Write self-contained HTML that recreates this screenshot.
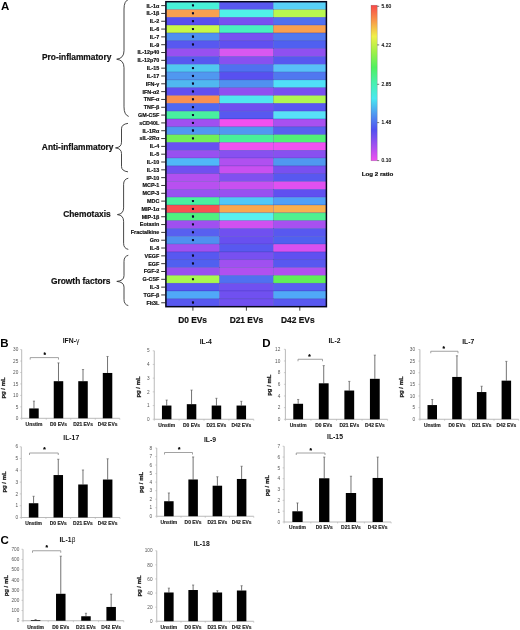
<!DOCTYPE html>
<html><head><meta charset="utf-8"><title>Figure</title>
<style>html,body{margin:0;padding:0;background:#fff}svg{display:block;will-change:transform;opacity:0.999}</style>
</head><body>
<svg width="520" height="630" viewBox="0 0 520 630" font-family='"Liberation Sans", sans-serif' font-weight="bold">
<rect width="520" height="630" fill="#fff"/>
<g shape-rendering="auto">
<rect x="165.90" y="1.70" width="53.60" height="7.82" fill="#48F0D8" stroke="#1a1a90" stroke-opacity="0.35" stroke-width="0.5"/>
<rect x="219.50" y="1.70" width="53.80" height="7.82" fill="#5858F0" stroke="#1a1a90" stroke-opacity="0.35" stroke-width="0.5"/>
<rect x="273.30" y="1.70" width="53.10" height="7.82" fill="#58D0F8" stroke="#1a1a90" stroke-opacity="0.35" stroke-width="0.5"/>
<rect x="165.90" y="9.52" width="53.60" height="7.82" fill="#F8A050" stroke="#1a1a90" stroke-opacity="0.35" stroke-width="0.5"/>
<rect x="219.50" y="9.52" width="53.80" height="7.82" fill="#50F0E8" stroke="#1a1a90" stroke-opacity="0.35" stroke-width="0.5"/>
<rect x="273.30" y="9.52" width="53.10" height="7.82" fill="#B8F850" stroke="#1a1a90" stroke-opacity="0.35" stroke-width="0.5"/>
<rect x="165.90" y="17.34" width="53.60" height="7.82" fill="#5850F0" stroke="#1a1a90" stroke-opacity="0.35" stroke-width="0.5"/>
<rect x="219.50" y="17.34" width="53.80" height="7.82" fill="#7850F0" stroke="#1a1a90" stroke-opacity="0.35" stroke-width="0.5"/>
<rect x="273.30" y="17.34" width="53.10" height="7.82" fill="#5070F0" stroke="#1a1a90" stroke-opacity="0.35" stroke-width="0.5"/>
<rect x="165.90" y="25.16" width="53.60" height="7.82" fill="#C8F848" stroke="#1a1a90" stroke-opacity="0.35" stroke-width="0.5"/>
<rect x="219.50" y="25.16" width="53.80" height="7.82" fill="#48F0C0" stroke="#1a1a90" stroke-opacity="0.35" stroke-width="0.5"/>
<rect x="273.30" y="25.16" width="53.10" height="7.82" fill="#F8A050" stroke="#1a1a90" stroke-opacity="0.35" stroke-width="0.5"/>
<rect x="165.90" y="32.98" width="53.60" height="7.82" fill="#5090F0" stroke="#1a1a90" stroke-opacity="0.35" stroke-width="0.5"/>
<rect x="219.50" y="32.98" width="53.80" height="7.82" fill="#7850F0" stroke="#1a1a90" stroke-opacity="0.35" stroke-width="0.5"/>
<rect x="273.30" y="32.98" width="53.10" height="7.82" fill="#5078F0" stroke="#1a1a90" stroke-opacity="0.35" stroke-width="0.5"/>
<rect x="165.90" y="40.80" width="53.60" height="7.82" fill="#5858F0" stroke="#1a1a90" stroke-opacity="0.35" stroke-width="0.5"/>
<rect x="219.50" y="40.80" width="53.80" height="7.82" fill="#6050F0" stroke="#1a1a90" stroke-opacity="0.35" stroke-width="0.5"/>
<rect x="273.30" y="40.80" width="53.10" height="7.82" fill="#5060F0" stroke="#1a1a90" stroke-opacity="0.35" stroke-width="0.5"/>
<rect x="165.90" y="48.62" width="53.60" height="7.82" fill="#9850F0" stroke="#1a1a90" stroke-opacity="0.35" stroke-width="0.5"/>
<rect x="219.50" y="48.62" width="53.80" height="7.82" fill="#D858F0" stroke="#1a1a90" stroke-opacity="0.35" stroke-width="0.5"/>
<rect x="273.30" y="48.62" width="53.10" height="7.82" fill="#9050F0" stroke="#1a1a90" stroke-opacity="0.35" stroke-width="0.5"/>
<rect x="165.90" y="56.44" width="53.60" height="7.82" fill="#5858F0" stroke="#1a1a90" stroke-opacity="0.35" stroke-width="0.5"/>
<rect x="219.50" y="56.44" width="53.80" height="7.82" fill="#8850F0" stroke="#1a1a90" stroke-opacity="0.35" stroke-width="0.5"/>
<rect x="273.30" y="56.44" width="53.10" height="7.82" fill="#5858F0" stroke="#1a1a90" stroke-opacity="0.35" stroke-width="0.5"/>
<rect x="165.90" y="64.26" width="53.60" height="7.82" fill="#50C8F0" stroke="#1a1a90" stroke-opacity="0.35" stroke-width="0.5"/>
<rect x="219.50" y="64.26" width="53.80" height="7.82" fill="#5070F0" stroke="#1a1a90" stroke-opacity="0.35" stroke-width="0.5"/>
<rect x="273.30" y="64.26" width="53.10" height="7.82" fill="#58C0F8" stroke="#1a1a90" stroke-opacity="0.35" stroke-width="0.5"/>
<rect x="165.90" y="72.08" width="53.60" height="7.82" fill="#5098F0" stroke="#1a1a90" stroke-opacity="0.35" stroke-width="0.5"/>
<rect x="219.50" y="72.08" width="53.80" height="7.82" fill="#5850F0" stroke="#1a1a90" stroke-opacity="0.35" stroke-width="0.5"/>
<rect x="273.30" y="72.08" width="53.10" height="7.82" fill="#5078F0" stroke="#1a1a90" stroke-opacity="0.35" stroke-width="0.5"/>
<rect x="165.90" y="79.90" width="53.60" height="7.82" fill="#50B8F0" stroke="#1a1a90" stroke-opacity="0.35" stroke-width="0.5"/>
<rect x="219.50" y="79.90" width="53.80" height="7.82" fill="#5090F0" stroke="#1a1a90" stroke-opacity="0.35" stroke-width="0.5"/>
<rect x="273.30" y="79.90" width="53.10" height="7.82" fill="#50E0F8" stroke="#1a1a90" stroke-opacity="0.35" stroke-width="0.5"/>
<rect x="165.90" y="87.72" width="53.60" height="7.82" fill="#6050F0" stroke="#1a1a90" stroke-opacity="0.35" stroke-width="0.5"/>
<rect x="219.50" y="87.72" width="53.80" height="7.82" fill="#9050F0" stroke="#1a1a90" stroke-opacity="0.35" stroke-width="0.5"/>
<rect x="273.30" y="87.72" width="53.10" height="7.82" fill="#7850F0" stroke="#1a1a90" stroke-opacity="0.35" stroke-width="0.5"/>
<rect x="165.90" y="95.54" width="53.60" height="7.82" fill="#F89050" stroke="#1a1a90" stroke-opacity="0.35" stroke-width="0.5"/>
<rect x="219.50" y="95.54" width="53.80" height="7.82" fill="#50E8F0" stroke="#1a1a90" stroke-opacity="0.35" stroke-width="0.5"/>
<rect x="273.30" y="95.54" width="53.10" height="7.82" fill="#B0F850" stroke="#1a1a90" stroke-opacity="0.35" stroke-width="0.5"/>
<rect x="165.90" y="103.36" width="53.60" height="7.82" fill="#5068F0" stroke="#1a1a90" stroke-opacity="0.35" stroke-width="0.5"/>
<rect x="219.50" y="103.36" width="53.80" height="7.82" fill="#7050F0" stroke="#1a1a90" stroke-opacity="0.35" stroke-width="0.5"/>
<rect x="273.30" y="103.36" width="53.10" height="7.82" fill="#5858F0" stroke="#1a1a90" stroke-opacity="0.35" stroke-width="0.5"/>
<rect x="165.90" y="111.18" width="53.60" height="7.82" fill="#48F0A0" stroke="#1a1a90" stroke-opacity="0.35" stroke-width="0.5"/>
<rect x="219.50" y="111.18" width="53.80" height="7.82" fill="#5858F0" stroke="#1a1a90" stroke-opacity="0.35" stroke-width="0.5"/>
<rect x="273.30" y="111.18" width="53.10" height="7.82" fill="#58E0F8" stroke="#1a1a90" stroke-opacity="0.35" stroke-width="0.5"/>
<rect x="165.90" y="119.00" width="53.60" height="7.82" fill="#A050F0" stroke="#1a1a90" stroke-opacity="0.35" stroke-width="0.5"/>
<rect x="219.50" y="119.00" width="53.80" height="7.82" fill="#F050F0" stroke="#1a1a90" stroke-opacity="0.35" stroke-width="0.5"/>
<rect x="273.30" y="119.00" width="53.10" height="7.82" fill="#A850F0" stroke="#1a1a90" stroke-opacity="0.35" stroke-width="0.5"/>
<rect x="165.90" y="126.82" width="53.60" height="7.82" fill="#5098F0" stroke="#1a1a90" stroke-opacity="0.35" stroke-width="0.5"/>
<rect x="219.50" y="126.82" width="53.80" height="7.82" fill="#5098F0" stroke="#1a1a90" stroke-opacity="0.35" stroke-width="0.5"/>
<rect x="273.30" y="126.82" width="53.10" height="7.82" fill="#5860F0" stroke="#1a1a90" stroke-opacity="0.35" stroke-width="0.5"/>
<rect x="165.90" y="134.64" width="53.60" height="7.82" fill="#70F058" stroke="#1a1a90" stroke-opacity="0.35" stroke-width="0.5"/>
<rect x="219.50" y="134.64" width="53.80" height="7.82" fill="#48F098" stroke="#1a1a90" stroke-opacity="0.35" stroke-width="0.5"/>
<rect x="273.30" y="134.64" width="53.10" height="7.82" fill="#50F078" stroke="#1a1a90" stroke-opacity="0.35" stroke-width="0.5"/>
<rect x="165.90" y="142.46" width="53.60" height="7.82" fill="#6850F0" stroke="#1a1a90" stroke-opacity="0.35" stroke-width="0.5"/>
<rect x="219.50" y="142.46" width="53.80" height="7.82" fill="#F050F0" stroke="#1a1a90" stroke-opacity="0.35" stroke-width="0.5"/>
<rect x="273.30" y="142.46" width="53.10" height="7.82" fill="#F050F0" stroke="#1a1a90" stroke-opacity="0.35" stroke-width="0.5"/>
<rect x="165.90" y="150.28" width="53.60" height="7.82" fill="#9850F0" stroke="#1a1a90" stroke-opacity="0.35" stroke-width="0.5"/>
<rect x="219.50" y="150.28" width="53.80" height="7.82" fill="#8850F0" stroke="#1a1a90" stroke-opacity="0.35" stroke-width="0.5"/>
<rect x="273.30" y="150.28" width="53.10" height="7.82" fill="#8850F0" stroke="#1a1a90" stroke-opacity="0.35" stroke-width="0.5"/>
<rect x="165.90" y="158.10" width="53.60" height="7.82" fill="#50B8F8" stroke="#1a1a90" stroke-opacity="0.35" stroke-width="0.5"/>
<rect x="219.50" y="158.10" width="53.80" height="7.82" fill="#B050F0" stroke="#1a1a90" stroke-opacity="0.35" stroke-width="0.5"/>
<rect x="273.30" y="158.10" width="53.10" height="7.82" fill="#5098F0" stroke="#1a1a90" stroke-opacity="0.35" stroke-width="0.5"/>
<rect x="165.90" y="165.92" width="53.60" height="7.82" fill="#7050F0" stroke="#1a1a90" stroke-opacity="0.35" stroke-width="0.5"/>
<rect x="219.50" y="165.92" width="53.80" height="7.82" fill="#C850F0" stroke="#1a1a90" stroke-opacity="0.35" stroke-width="0.5"/>
<rect x="273.30" y="165.92" width="53.10" height="7.82" fill="#7850F0" stroke="#1a1a90" stroke-opacity="0.35" stroke-width="0.5"/>
<rect x="165.90" y="173.74" width="53.60" height="7.82" fill="#B050F0" stroke="#1a1a90" stroke-opacity="0.35" stroke-width="0.5"/>
<rect x="219.50" y="173.74" width="53.80" height="7.82" fill="#8050F0" stroke="#1a1a90" stroke-opacity="0.35" stroke-width="0.5"/>
<rect x="273.30" y="173.74" width="53.10" height="7.82" fill="#5858F0" stroke="#1a1a90" stroke-opacity="0.35" stroke-width="0.5"/>
<rect x="165.90" y="181.56" width="53.60" height="7.82" fill="#B850F0" stroke="#1a1a90" stroke-opacity="0.35" stroke-width="0.5"/>
<rect x="219.50" y="181.56" width="53.80" height="7.82" fill="#C850F0" stroke="#1a1a90" stroke-opacity="0.35" stroke-width="0.5"/>
<rect x="273.30" y="181.56" width="53.10" height="7.82" fill="#E050F0" stroke="#1a1a90" stroke-opacity="0.35" stroke-width="0.5"/>
<rect x="165.90" y="189.38" width="53.60" height="7.82" fill="#9850F0" stroke="#1a1a90" stroke-opacity="0.35" stroke-width="0.5"/>
<rect x="219.50" y="189.38" width="53.80" height="7.82" fill="#9850F0" stroke="#1a1a90" stroke-opacity="0.35" stroke-width="0.5"/>
<rect x="273.30" y="189.38" width="53.10" height="7.82" fill="#6050F0" stroke="#1a1a90" stroke-opacity="0.35" stroke-width="0.5"/>
<rect x="165.90" y="197.20" width="53.60" height="7.82" fill="#48F0A0" stroke="#1a1a90" stroke-opacity="0.35" stroke-width="0.5"/>
<rect x="219.50" y="197.20" width="53.80" height="7.82" fill="#50C8F8" stroke="#1a1a90" stroke-opacity="0.35" stroke-width="0.5"/>
<rect x="273.30" y="197.20" width="53.10" height="7.82" fill="#50A0F8" stroke="#1a1a90" stroke-opacity="0.35" stroke-width="0.5"/>
<rect x="165.90" y="205.02" width="53.60" height="7.82" fill="#F85050" stroke="#1a1a90" stroke-opacity="0.35" stroke-width="0.5"/>
<rect x="219.50" y="205.02" width="53.80" height="7.82" fill="#F8A850" stroke="#1a1a90" stroke-opacity="0.35" stroke-width="0.5"/>
<rect x="273.30" y="205.02" width="53.10" height="7.82" fill="#F8B050" stroke="#1a1a90" stroke-opacity="0.35" stroke-width="0.5"/>
<rect x="165.90" y="212.84" width="53.60" height="7.82" fill="#50F080" stroke="#1a1a90" stroke-opacity="0.35" stroke-width="0.5"/>
<rect x="219.50" y="212.84" width="53.80" height="7.82" fill="#58F0F0" stroke="#1a1a90" stroke-opacity="0.35" stroke-width="0.5"/>
<rect x="273.30" y="212.84" width="53.10" height="7.82" fill="#50F090" stroke="#1a1a90" stroke-opacity="0.35" stroke-width="0.5"/>
<rect x="165.90" y="220.66" width="53.60" height="7.82" fill="#A050F0" stroke="#1a1a90" stroke-opacity="0.35" stroke-width="0.5"/>
<rect x="219.50" y="220.66" width="53.80" height="7.82" fill="#D050F0" stroke="#1a1a90" stroke-opacity="0.35" stroke-width="0.5"/>
<rect x="273.30" y="220.66" width="53.10" height="7.82" fill="#A850F0" stroke="#1a1a90" stroke-opacity="0.35" stroke-width="0.5"/>
<rect x="165.90" y="228.48" width="53.60" height="7.82" fill="#5860F0" stroke="#1a1a90" stroke-opacity="0.35" stroke-width="0.5"/>
<rect x="219.50" y="228.48" width="53.80" height="7.82" fill="#7050F0" stroke="#1a1a90" stroke-opacity="0.35" stroke-width="0.5"/>
<rect x="273.30" y="228.48" width="53.10" height="7.82" fill="#5858F0" stroke="#1a1a90" stroke-opacity="0.35" stroke-width="0.5"/>
<rect x="165.90" y="236.30" width="53.60" height="7.82" fill="#5090F0" stroke="#1a1a90" stroke-opacity="0.35" stroke-width="0.5"/>
<rect x="219.50" y="236.30" width="53.80" height="7.82" fill="#6850F0" stroke="#1a1a90" stroke-opacity="0.35" stroke-width="0.5"/>
<rect x="273.30" y="236.30" width="53.10" height="7.82" fill="#5060F0" stroke="#1a1a90" stroke-opacity="0.35" stroke-width="0.5"/>
<rect x="165.90" y="244.12" width="53.60" height="7.82" fill="#A050F0" stroke="#1a1a90" stroke-opacity="0.35" stroke-width="0.5"/>
<rect x="219.50" y="244.12" width="53.80" height="7.82" fill="#5858F0" stroke="#1a1a90" stroke-opacity="0.35" stroke-width="0.5"/>
<rect x="273.30" y="244.12" width="53.10" height="7.82" fill="#D850F0" stroke="#1a1a90" stroke-opacity="0.35" stroke-width="0.5"/>
<rect x="165.90" y="251.94" width="53.60" height="7.82" fill="#5858F0" stroke="#1a1a90" stroke-opacity="0.35" stroke-width="0.5"/>
<rect x="219.50" y="251.94" width="53.80" height="7.82" fill="#7850F0" stroke="#1a1a90" stroke-opacity="0.35" stroke-width="0.5"/>
<rect x="273.30" y="251.94" width="53.10" height="7.82" fill="#6050F0" stroke="#1a1a90" stroke-opacity="0.35" stroke-width="0.5"/>
<rect x="165.90" y="259.76" width="53.60" height="7.82" fill="#5060F0" stroke="#1a1a90" stroke-opacity="0.35" stroke-width="0.5"/>
<rect x="219.50" y="259.76" width="53.80" height="7.82" fill="#A050F0" stroke="#1a1a90" stroke-opacity="0.35" stroke-width="0.5"/>
<rect x="273.30" y="259.76" width="53.10" height="7.82" fill="#5858F0" stroke="#1a1a90" stroke-opacity="0.35" stroke-width="0.5"/>
<rect x="165.90" y="267.58" width="53.60" height="7.82" fill="#9850F0" stroke="#1a1a90" stroke-opacity="0.35" stroke-width="0.5"/>
<rect x="219.50" y="267.58" width="53.80" height="7.82" fill="#B050F0" stroke="#1a1a90" stroke-opacity="0.35" stroke-width="0.5"/>
<rect x="273.30" y="267.58" width="53.10" height="7.82" fill="#B050F0" stroke="#1a1a90" stroke-opacity="0.35" stroke-width="0.5"/>
<rect x="165.90" y="275.40" width="53.60" height="7.82" fill="#A8F850" stroke="#1a1a90" stroke-opacity="0.35" stroke-width="0.5"/>
<rect x="219.50" y="275.40" width="53.80" height="7.82" fill="#5070F0" stroke="#1a1a90" stroke-opacity="0.35" stroke-width="0.5"/>
<rect x="273.30" y="275.40" width="53.10" height="7.82" fill="#60F058" stroke="#1a1a90" stroke-opacity="0.35" stroke-width="0.5"/>
<rect x="165.90" y="283.22" width="53.60" height="7.82" fill="#5858F0" stroke="#1a1a90" stroke-opacity="0.35" stroke-width="0.5"/>
<rect x="219.50" y="283.22" width="53.80" height="7.82" fill="#7050F0" stroke="#1a1a90" stroke-opacity="0.35" stroke-width="0.5"/>
<rect x="273.30" y="283.22" width="53.10" height="7.82" fill="#5860F0" stroke="#1a1a90" stroke-opacity="0.35" stroke-width="0.5"/>
<rect x="165.90" y="291.04" width="53.60" height="7.82" fill="#50A8F8" stroke="#1a1a90" stroke-opacity="0.35" stroke-width="0.5"/>
<rect x="219.50" y="291.04" width="53.80" height="7.82" fill="#7050F0" stroke="#1a1a90" stroke-opacity="0.35" stroke-width="0.5"/>
<rect x="273.30" y="291.04" width="53.10" height="7.82" fill="#50A8F8" stroke="#1a1a90" stroke-opacity="0.35" stroke-width="0.5"/>
<rect x="165.90" y="298.86" width="53.60" height="7.82" fill="#5858F0" stroke="#1a1a90" stroke-opacity="0.35" stroke-width="0.5"/>
<rect x="219.50" y="298.86" width="53.80" height="7.82" fill="#7050F0" stroke="#1a1a90" stroke-opacity="0.35" stroke-width="0.5"/>
<rect x="273.30" y="298.86" width="53.10" height="7.82" fill="#5858F0" stroke="#1a1a90" stroke-opacity="0.35" stroke-width="0.5"/>
</g>
<rect x="165.9" y="1.7" width="160.50" height="304.98" fill="none" stroke="#05051c" stroke-width="1.5"/>
<line x1="161.2" y1="5.61" x2="165.9" y2="5.61" stroke="#222" stroke-width="0.9"/>
<text x="159.3" y="7.51" font-size="5.4" text-anchor="end" fill="#111" stroke="#111" stroke-width="0.18">IL-1α</text>
<circle cx="193" cy="5.61" r="1.15" fill="#0c0c2c"/>
<line x1="161.2" y1="13.43" x2="165.9" y2="13.43" stroke="#222" stroke-width="0.9"/>
<text x="159.3" y="15.33" font-size="5.4" text-anchor="end" fill="#111" stroke="#111" stroke-width="0.18">IL-1β</text>
<circle cx="193" cy="13.43" r="1.15" fill="#0c0c2c"/>
<line x1="161.2" y1="21.25" x2="165.9" y2="21.25" stroke="#222" stroke-width="0.9"/>
<text x="159.3" y="23.15" font-size="5.4" text-anchor="end" fill="#111" stroke="#111" stroke-width="0.18">IL-2</text>
<circle cx="193" cy="21.25" r="1.15" fill="#0c0c2c"/>
<line x1="161.2" y1="29.07" x2="165.9" y2="29.07" stroke="#222" stroke-width="0.9"/>
<text x="159.3" y="30.97" font-size="5.4" text-anchor="end" fill="#111" stroke="#111" stroke-width="0.18">IL-6</text>
<circle cx="193" cy="29.07" r="1.15" fill="#0c0c2c"/>
<line x1="161.2" y1="36.89" x2="165.9" y2="36.89" stroke="#222" stroke-width="0.9"/>
<text x="159.3" y="38.79" font-size="5.4" text-anchor="end" fill="#111" stroke="#111" stroke-width="0.18">IL-7</text>
<circle cx="193" cy="36.89" r="1.15" fill="#0c0c2c"/>
<line x1="161.2" y1="44.71" x2="165.9" y2="44.71" stroke="#222" stroke-width="0.9"/>
<text x="159.3" y="46.61" font-size="5.4" text-anchor="end" fill="#111" stroke="#111" stroke-width="0.18">IL-9</text>
<circle cx="193" cy="44.71" r="1.15" fill="#0c0c2c"/>
<line x1="161.2" y1="52.53" x2="165.9" y2="52.53" stroke="#222" stroke-width="0.9"/>
<text x="159.3" y="54.43" font-size="5.4" text-anchor="end" fill="#111" stroke="#111" stroke-width="0.18">IL-12p40</text>
<line x1="161.2" y1="60.35" x2="165.9" y2="60.35" stroke="#222" stroke-width="0.9"/>
<text x="159.3" y="62.25" font-size="5.4" text-anchor="end" fill="#111" stroke="#111" stroke-width="0.18">IL-12p70</text>
<circle cx="193" cy="60.35" r="1.15" fill="#0c0c2c"/>
<line x1="161.2" y1="68.17" x2="165.9" y2="68.17" stroke="#222" stroke-width="0.9"/>
<text x="159.3" y="70.07" font-size="5.4" text-anchor="end" fill="#111" stroke="#111" stroke-width="0.18">IL-15</text>
<circle cx="193" cy="68.17" r="1.15" fill="#0c0c2c"/>
<line x1="161.2" y1="75.99" x2="165.9" y2="75.99" stroke="#222" stroke-width="0.9"/>
<text x="159.3" y="77.89" font-size="5.4" text-anchor="end" fill="#111" stroke="#111" stroke-width="0.18">IL-17</text>
<circle cx="193" cy="75.99" r="1.15" fill="#0c0c2c"/>
<line x1="161.2" y1="83.81" x2="165.9" y2="83.81" stroke="#222" stroke-width="0.9"/>
<text x="159.3" y="85.71" font-size="5.4" text-anchor="end" fill="#111" stroke="#111" stroke-width="0.18">IFN-γ</text>
<circle cx="193" cy="83.81" r="1.15" fill="#0c0c2c"/>
<line x1="161.2" y1="91.63" x2="165.9" y2="91.63" stroke="#222" stroke-width="0.9"/>
<text x="159.3" y="93.53" font-size="5.4" text-anchor="end" fill="#111" stroke="#111" stroke-width="0.18">IFN-α2</text>
<circle cx="193" cy="91.63" r="1.15" fill="#0c0c2c"/>
<line x1="161.2" y1="99.45" x2="165.9" y2="99.45" stroke="#222" stroke-width="0.9"/>
<text x="159.3" y="101.35" font-size="5.4" text-anchor="end" fill="#111" stroke="#111" stroke-width="0.18">TNF-α</text>
<circle cx="193" cy="99.45" r="1.15" fill="#0c0c2c"/>
<line x1="161.2" y1="107.27" x2="165.9" y2="107.27" stroke="#222" stroke-width="0.9"/>
<text x="159.3" y="109.17" font-size="5.4" text-anchor="end" fill="#111" stroke="#111" stroke-width="0.18">TNF-β</text>
<circle cx="193" cy="107.27" r="1.15" fill="#0c0c2c"/>
<line x1="161.2" y1="115.09" x2="165.9" y2="115.09" stroke="#222" stroke-width="0.9"/>
<text x="159.3" y="116.99" font-size="5.4" text-anchor="end" fill="#111" stroke="#111" stroke-width="0.18">GM-CSF</text>
<circle cx="193" cy="115.09" r="1.15" fill="#0c0c2c"/>
<line x1="161.2" y1="122.91" x2="165.9" y2="122.91" stroke="#222" stroke-width="0.9"/>
<text x="159.3" y="124.81" font-size="5.4" text-anchor="end" fill="#111" stroke="#111" stroke-width="0.18">sCD40L</text>
<circle cx="193" cy="122.91" r="1.15" fill="#0c0c2c"/>
<line x1="161.2" y1="130.73" x2="165.9" y2="130.73" stroke="#222" stroke-width="0.9"/>
<text x="159.3" y="132.63" font-size="5.4" text-anchor="end" fill="#111" stroke="#111" stroke-width="0.18">IL-1Rα</text>
<circle cx="193" cy="130.73" r="1.15" fill="#0c0c2c"/>
<line x1="161.2" y1="138.55" x2="165.9" y2="138.55" stroke="#222" stroke-width="0.9"/>
<text x="159.3" y="140.45" font-size="5.4" text-anchor="end" fill="#111" stroke="#111" stroke-width="0.18">sIL-2Rα</text>
<circle cx="193" cy="138.55" r="1.15" fill="#0c0c2c"/>
<line x1="161.2" y1="146.37" x2="165.9" y2="146.37" stroke="#222" stroke-width="0.9"/>
<text x="159.3" y="148.27" font-size="5.4" text-anchor="end" fill="#111" stroke="#111" stroke-width="0.18">IL-4</text>
<line x1="161.2" y1="154.19" x2="165.9" y2="154.19" stroke="#222" stroke-width="0.9"/>
<text x="159.3" y="156.09" font-size="5.4" text-anchor="end" fill="#111" stroke="#111" stroke-width="0.18">IL-5</text>
<line x1="161.2" y1="162.01" x2="165.9" y2="162.01" stroke="#222" stroke-width="0.9"/>
<text x="159.3" y="163.91" font-size="5.4" text-anchor="end" fill="#111" stroke="#111" stroke-width="0.18">IL-10</text>
<line x1="161.2" y1="169.83" x2="165.9" y2="169.83" stroke="#222" stroke-width="0.9"/>
<text x="159.3" y="171.73" font-size="5.4" text-anchor="end" fill="#111" stroke="#111" stroke-width="0.18">IL-13</text>
<line x1="161.2" y1="177.65" x2="165.9" y2="177.65" stroke="#222" stroke-width="0.9"/>
<text x="159.3" y="179.55" font-size="5.4" text-anchor="end" fill="#111" stroke="#111" stroke-width="0.18">IP-10</text>
<line x1="161.2" y1="185.47" x2="165.9" y2="185.47" stroke="#222" stroke-width="0.9"/>
<text x="159.3" y="187.37" font-size="5.4" text-anchor="end" fill="#111" stroke="#111" stroke-width="0.18">MCP-1</text>
<line x1="161.2" y1="193.29" x2="165.9" y2="193.29" stroke="#222" stroke-width="0.9"/>
<text x="159.3" y="195.19" font-size="5.4" text-anchor="end" fill="#111" stroke="#111" stroke-width="0.18">MCP-3</text>
<line x1="161.2" y1="201.11" x2="165.9" y2="201.11" stroke="#222" stroke-width="0.9"/>
<text x="159.3" y="203.01" font-size="5.4" text-anchor="end" fill="#111" stroke="#111" stroke-width="0.18">MDC</text>
<circle cx="193" cy="201.11" r="1.15" fill="#0c0c2c"/>
<line x1="161.2" y1="208.93" x2="165.9" y2="208.93" stroke="#222" stroke-width="0.9"/>
<text x="159.3" y="210.83" font-size="5.4" text-anchor="end" fill="#111" stroke="#111" stroke-width="0.18">MIP-1α</text>
<circle cx="193" cy="208.93" r="1.15" fill="#0c0c2c"/>
<line x1="161.2" y1="216.75" x2="165.9" y2="216.75" stroke="#222" stroke-width="0.9"/>
<text x="159.3" y="218.65" font-size="5.4" text-anchor="end" fill="#111" stroke="#111" stroke-width="0.18">MIP-1β</text>
<circle cx="193" cy="216.75" r="1.15" fill="#0c0c2c"/>
<line x1="161.2" y1="224.57" x2="165.9" y2="224.57" stroke="#222" stroke-width="0.9"/>
<text x="159.3" y="226.47" font-size="5.4" text-anchor="end" fill="#111" stroke="#111" stroke-width="0.18">Eotaxin</text>
<circle cx="193" cy="224.57" r="1.15" fill="#0c0c2c"/>
<line x1="161.2" y1="232.39" x2="165.9" y2="232.39" stroke="#222" stroke-width="0.9"/>
<text x="159.3" y="234.29" font-size="5.4" text-anchor="end" fill="#111" stroke="#111" stroke-width="0.18">Fractalkine</text>
<circle cx="193" cy="232.39" r="1.15" fill="#0c0c2c"/>
<line x1="161.2" y1="240.21" x2="165.9" y2="240.21" stroke="#222" stroke-width="0.9"/>
<text x="159.3" y="242.11" font-size="5.4" text-anchor="end" fill="#111" stroke="#111" stroke-width="0.18">Gro</text>
<circle cx="193" cy="240.21" r="1.15" fill="#0c0c2c"/>
<line x1="161.2" y1="248.03" x2="165.9" y2="248.03" stroke="#222" stroke-width="0.9"/>
<text x="159.3" y="249.93" font-size="5.4" text-anchor="end" fill="#111" stroke="#111" stroke-width="0.18">IL-8</text>
<line x1="161.2" y1="255.85" x2="165.9" y2="255.85" stroke="#222" stroke-width="0.9"/>
<text x="159.3" y="257.75" font-size="5.4" text-anchor="end" fill="#111" stroke="#111" stroke-width="0.18">VEGF</text>
<circle cx="193" cy="255.85" r="1.15" fill="#0c0c2c"/>
<line x1="161.2" y1="263.67" x2="165.9" y2="263.67" stroke="#222" stroke-width="0.9"/>
<text x="159.3" y="265.57" font-size="5.4" text-anchor="end" fill="#111" stroke="#111" stroke-width="0.18">EGF</text>
<circle cx="193" cy="263.67" r="1.15" fill="#0c0c2c"/>
<line x1="161.2" y1="271.49" x2="165.9" y2="271.49" stroke="#222" stroke-width="0.9"/>
<text x="159.3" y="273.39" font-size="5.4" text-anchor="end" fill="#111" stroke="#111" stroke-width="0.18">FGF-2</text>
<line x1="161.2" y1="279.31" x2="165.9" y2="279.31" stroke="#222" stroke-width="0.9"/>
<text x="159.3" y="281.21" font-size="5.4" text-anchor="end" fill="#111" stroke="#111" stroke-width="0.18">G-CSF</text>
<circle cx="193" cy="279.31" r="1.15" fill="#0c0c2c"/>
<line x1="161.2" y1="287.13" x2="165.9" y2="287.13" stroke="#222" stroke-width="0.9"/>
<text x="159.3" y="289.03" font-size="5.4" text-anchor="end" fill="#111" stroke="#111" stroke-width="0.18">IL-3</text>
<line x1="161.2" y1="294.95" x2="165.9" y2="294.95" stroke="#222" stroke-width="0.9"/>
<text x="159.3" y="296.85" font-size="5.4" text-anchor="end" fill="#111" stroke="#111" stroke-width="0.18">TGF-β</text>
<line x1="161.2" y1="302.77" x2="165.9" y2="302.77" stroke="#222" stroke-width="0.9"/>
<text x="159.3" y="304.67" font-size="5.4" text-anchor="end" fill="#111" stroke="#111" stroke-width="0.18">Flt3L</text>
<circle cx="193" cy="302.77" r="1.15" fill="#0c0c2c"/>
<text x="193" y="8.21" font-size="6" text-anchor="middle" fill="#0c0c2c">*</text>
<text x="193" y="16.03" font-size="6" text-anchor="middle" fill="#0c0c2c">*</text>
<text x="193" y="23.85" font-size="6" text-anchor="middle" fill="#0c0c2c">*</text>
<text x="193" y="31.67" font-size="6" text-anchor="middle" fill="#0c0c2c">*</text>
<text x="193" y="39.49" font-size="6" text-anchor="middle" fill="#0c0c2c">*</text>
<text x="193" y="47.31" font-size="6" text-anchor="middle" fill="#0c0c2c">*</text>
<text x="193" y="62.95" font-size="6" text-anchor="middle" fill="#0c0c2c">*</text>
<text x="193" y="70.77" font-size="6" text-anchor="middle" fill="#0c0c2c">*</text>
<text x="193" y="78.59" font-size="6" text-anchor="middle" fill="#0c0c2c">*</text>
<text x="193" y="86.41" font-size="6" text-anchor="middle" fill="#0c0c2c">*</text>
<text x="193" y="94.23" font-size="6" text-anchor="middle" fill="#0c0c2c">*</text>
<text x="193" y="102.05" font-size="6" text-anchor="middle" fill="#0c0c2c">*</text>
<text x="193" y="109.87" font-size="6" text-anchor="middle" fill="#0c0c2c">*</text>
<text x="193" y="117.69" font-size="6" text-anchor="middle" fill="#0c0c2c">*</text>
<text x="193" y="125.51" font-size="6" text-anchor="middle" fill="#0c0c2c">*</text>
<text x="193" y="133.33" font-size="6" text-anchor="middle" fill="#0c0c2c">*</text>
<text x="193" y="141.15" font-size="6" text-anchor="middle" fill="#0c0c2c">*</text>
<text x="193" y="203.71" font-size="6" text-anchor="middle" fill="#0c0c2c">*</text>
<text x="193" y="211.53" font-size="6" text-anchor="middle" fill="#0c0c2c">*</text>
<text x="193" y="219.35" font-size="6" text-anchor="middle" fill="#0c0c2c">*</text>
<text x="193" y="227.17" font-size="6" text-anchor="middle" fill="#0c0c2c">*</text>
<text x="193" y="234.99" font-size="6" text-anchor="middle" fill="#0c0c2c">*</text>
<text x="193" y="242.81" font-size="6" text-anchor="middle" fill="#0c0c2c">*</text>
<text x="193" y="258.45" font-size="6" text-anchor="middle" fill="#0c0c2c">*</text>
<text x="193" y="266.27" font-size="6" text-anchor="middle" fill="#0c0c2c">*</text>
<text x="193" y="281.91" font-size="6" text-anchor="middle" fill="#0c0c2c">*</text>
<text x="193" y="305.37" font-size="6" text-anchor="middle" fill="#0c0c2c">*</text>
<line x1="192.9" y1="306.68" x2="192.9" y2="310.68" stroke="#111" stroke-width="0.8"/>
<text x="192.6" y="322.5" font-size="8.4" text-anchor="middle" fill="#111" stroke="#111" stroke-width="0.2">D0 EVs</text>
<line x1="246.4" y1="306.68" x2="246.4" y2="310.68" stroke="#111" stroke-width="0.8"/>
<text x="246.4" y="322.5" font-size="8.4" text-anchor="middle" fill="#111" stroke="#111" stroke-width="0.2">D21 EVs</text>
<line x1="299.8" y1="306.68" x2="299.8" y2="310.68" stroke="#111" stroke-width="0.8"/>
<text x="297.8" y="322.5" font-size="8.4" text-anchor="middle" fill="#111" stroke="#111" stroke-width="0.2">D42 EVs</text>
<path d="M128.3,-0.5 Q124,0.93 124,9.00 L124,50.70 Q124,58.35 116.7,59.2 Q124,60.05 124,67.70 L124,106.80 Q124,114.88 128.3,116.3" fill="none" stroke="#333" stroke-width="0.9" stroke-linecap="round"/>
<path d="M127.6,123.4 Q121.5,124.21 121.5,128.80 L121.5,142.20 Q121.5,147.33 115.5,147.9 Q121.5,148.47 121.5,153.60 L121.5,166.40 Q121.5,170.99 127.6,171.8" fill="none" stroke="#333" stroke-width="0.9" stroke-linecap="round"/>
<path d="M127.9,178.3 Q123.6,179.20 123.6,184.30 L123.6,207.90 Q123.6,213.93 117.4,214.6 Q123.6,215.27 123.6,221.30 L123.6,243.30 Q123.6,248.40 127.9,249.3" fill="none" stroke="#333" stroke-width="0.9" stroke-linecap="round"/>
<path d="M127.9,255.4 Q124,256.30 124,261.40 L124,275.70 Q124,280.83 116.8,281.4 Q124,281.97 124,287.10 L124,299.50 Q124,304.60 127.9,305.5" fill="none" stroke="#333" stroke-width="0.9" stroke-linecap="round"/>
<text x="111.3" y="59.8" font-size="8.4" text-anchor="end" fill="#111" stroke="#111" stroke-width="0.2">Pro-inflammatory</text>
<text x="113.5" y="149.6" font-size="8.4" text-anchor="end" fill="#111" stroke="#111" stroke-width="0.2">Anti-inflammatory</text>
<text x="110.7" y="216.7" font-size="8.4" text-anchor="end" fill="#111" stroke="#111" stroke-width="0.2">Chemotaxis</text>
<text x="110.5" y="284.3" font-size="8.4" text-anchor="end" fill="#111" stroke="#111" stroke-width="0.2">Growth factors</text>
<text x="1.0" y="9.85" font-size="11.5" fill="#000">A</text>
<text x="0.3" y="346.5" font-size="11.5" fill="#000">B</text>
<text x="0.6" y="544.4" font-size="11.5" fill="#000">C</text>
<text x="262.3" y="346.6" font-size="11.5" fill="#000">D</text>
<defs><linearGradient id="cb" x1="0" y1="0" x2="0" y2="1"><stop offset="0" stop-color="#f84848"/><stop offset="0.10" stop-color="#f89848"/><stop offset="0.20" stop-color="#f0f048"/><stop offset="0.30" stop-color="#a0f048"/><stop offset="0.40" stop-color="#50f060"/><stop offset="0.50" stop-color="#48f0b0"/><stop offset="0.60" stop-color="#48e8f0"/><stop offset="0.70" stop-color="#5098f0"/><stop offset="0.80" stop-color="#5050f0"/><stop offset="0.90" stop-color="#a050f0"/><stop offset="1" stop-color="#f050f0"/></linearGradient></defs>
<rect x="371" y="5.2" width="6.2" height="155.6" fill="url(#cb)" stroke="#555" stroke-opacity="0.45" stroke-width="0.5"/>
<line x1="377.2" y1="6.3" x2="379.2" y2="6.3" stroke="#222" stroke-width="0.6"/>
<text x="381.6" y="8.10" font-size="4.9" font-weight="normal" fill="#111" stroke="#111" stroke-width="0.18">5.60</text>
<line x1="377.2" y1="44.9" x2="379.2" y2="44.9" stroke="#222" stroke-width="0.6"/>
<text x="381.6" y="46.70" font-size="4.9" font-weight="normal" fill="#111" stroke="#111" stroke-width="0.18">4.22</text>
<line x1="377.2" y1="84.3" x2="379.2" y2="84.3" stroke="#222" stroke-width="0.6"/>
<text x="381.6" y="86.10" font-size="4.9" font-weight="normal" fill="#111" stroke="#111" stroke-width="0.18">2.85</text>
<line x1="377.2" y1="122.6" x2="379.2" y2="122.6" stroke="#222" stroke-width="0.6"/>
<text x="381.6" y="124.40" font-size="4.9" font-weight="normal" fill="#111" stroke="#111" stroke-width="0.18">1.48</text>
<line x1="377.2" y1="160.6" x2="379.2" y2="160.6" stroke="#222" stroke-width="0.6"/>
<text x="381.6" y="162.40" font-size="4.9" font-weight="normal" fill="#111" stroke="#111" stroke-width="0.18">0.10</text>
<text x="377.5" y="176.2" font-size="6.2" text-anchor="middle" fill="#111" stroke="#111" stroke-width="0.2">Log 2 ratio</text>
<text x="71" y="343.00" font-size="6.8" text-anchor="middle" fill="#111">IFN-<tspan font-weight="normal">γ</tspan></text>
<line x1="21.7" y1="349.6" x2="21.7" y2="418.3" stroke="#a8a8a8" stroke-width="0.8"/>
<line x1="21.7" y1="418.3" x2="119.8" y2="418.3" stroke="#a8a8a8" stroke-width="0.8"/>
<line x1="20.2" y1="418.30" x2="21.7" y2="418.30" stroke="#b0b0b0" stroke-width="0.6"/>
<text x="18.3" y="419.95" font-size="4.7" font-weight="normal" text-anchor="end" fill="#555">0</text>
<line x1="20.2" y1="406.85" x2="21.7" y2="406.85" stroke="#b0b0b0" stroke-width="0.6"/>
<text x="18.3" y="408.50" font-size="4.7" font-weight="normal" text-anchor="end" fill="#555">5</text>
<line x1="20.2" y1="395.40" x2="21.7" y2="395.40" stroke="#b0b0b0" stroke-width="0.6"/>
<text x="18.3" y="397.05" font-size="4.7" font-weight="normal" text-anchor="end" fill="#555">10</text>
<line x1="20.2" y1="383.95" x2="21.7" y2="383.95" stroke="#b0b0b0" stroke-width="0.6"/>
<text x="18.3" y="385.60" font-size="4.7" font-weight="normal" text-anchor="end" fill="#555">15</text>
<line x1="20.2" y1="372.50" x2="21.7" y2="372.50" stroke="#b0b0b0" stroke-width="0.6"/>
<text x="18.3" y="374.15" font-size="4.7" font-weight="normal" text-anchor="end" fill="#555">20</text>
<line x1="20.2" y1="361.05" x2="21.7" y2="361.05" stroke="#b0b0b0" stroke-width="0.6"/>
<text x="18.3" y="362.70" font-size="4.7" font-weight="normal" text-anchor="end" fill="#555">25</text>
<line x1="20.2" y1="349.60" x2="21.7" y2="349.60" stroke="#b0b0b0" stroke-width="0.6"/>
<text x="18.3" y="351.25" font-size="4.7" font-weight="normal" text-anchor="end" fill="#555">30</text>
<line x1="21.70" y1="418.3" x2="21.70" y2="419.8" stroke="#b0b0b0" stroke-width="0.6"/>
<line x1="46.22" y1="418.3" x2="46.22" y2="419.8" stroke="#b0b0b0" stroke-width="0.6"/>
<line x1="70.75" y1="418.3" x2="70.75" y2="419.8" stroke="#b0b0b0" stroke-width="0.6"/>
<line x1="95.27" y1="418.3" x2="95.27" y2="419.8" stroke="#b0b0b0" stroke-width="0.6"/>
<line x1="119.80" y1="418.3" x2="119.80" y2="419.8" stroke="#b0b0b0" stroke-width="0.6"/>
<line x1="33.96" y1="408.45" x2="33.96" y2="401.12" stroke="#444" stroke-width="0.75"/>
<line x1="32.86" y1="401.12" x2="35.06" y2="401.12" stroke="#555" stroke-width="0.6"/>
<rect x="29.21" y="408.45" width="9.5" height="9.85" fill="#000"/>
<text x="33.96" y="426.30" font-size="4.95" text-anchor="middle" fill="#222" stroke="#222" stroke-width="0.15">Unstim</text>
<line x1="58.49" y1="381.20" x2="58.49" y2="362.88" stroke="#444" stroke-width="0.75"/>
<line x1="57.39" y1="362.88" x2="59.59" y2="362.88" stroke="#555" stroke-width="0.6"/>
<rect x="53.74" y="381.20" width="9.5" height="37.10" fill="#000"/>
<text x="58.49" y="426.30" font-size="4.95" text-anchor="middle" fill="#222" stroke="#222" stroke-width="0.15">D0 EVs</text>
<line x1="83.01" y1="381.20" x2="83.01" y2="369.52" stroke="#444" stroke-width="0.75"/>
<line x1="81.91" y1="369.52" x2="84.11" y2="369.52" stroke="#555" stroke-width="0.6"/>
<rect x="78.26" y="381.20" width="9.5" height="37.10" fill="#000"/>
<text x="83.01" y="426.30" font-size="4.95" text-anchor="middle" fill="#222" stroke="#222" stroke-width="0.15">D21 EVs</text>
<line x1="107.54" y1="372.96" x2="107.54" y2="356.47" stroke="#444" stroke-width="0.75"/>
<line x1="106.44" y1="356.47" x2="108.64" y2="356.47" stroke="#555" stroke-width="0.6"/>
<rect x="102.79" y="372.96" width="9.5" height="45.34" fill="#000"/>
<text x="107.54" y="426.30" font-size="4.95" text-anchor="middle" fill="#222" stroke="#222" stroke-width="0.15">D42 EVs</text>
<text transform="translate(4.85,398.60) rotate(-90)" font-size="5.4" textLength="21.2" lengthAdjust="spacingAndGlyphs" fill="#222" stroke="#222" stroke-width="0.25">pg / mL</text>
<path d="M30.2,359.6 L30.2,357.6 L58.5,357.6 L58.5,359.6" fill="none" stroke="#8a8a8a" stroke-width="0.8" stroke-linejoin="round"/>
<circle cx="44.8" cy="353.9" r="0.95" fill="#111"/>
<text x="44.8" y="357.30" font-size="7.5" text-anchor="middle" fill="#111">*</text>
<text x="205.75" y="344.25" font-size="6.8" text-anchor="middle" fill="#111">IL-4</text>
<line x1="154.25" y1="350.75" x2="154.25" y2="419.25" stroke="#a8a8a8" stroke-width="0.8"/>
<line x1="154.25" y1="419.25" x2="253.75" y2="419.25" stroke="#a8a8a8" stroke-width="0.8"/>
<line x1="152.75" y1="419.25" x2="154.25" y2="419.25" stroke="#b0b0b0" stroke-width="0.6"/>
<text x="149.5" y="420.90" font-size="4.7" font-weight="normal" text-anchor="end" fill="#555">0</text>
<line x1="152.75" y1="405.55" x2="154.25" y2="405.55" stroke="#b0b0b0" stroke-width="0.6"/>
<text x="149.5" y="407.20" font-size="4.7" font-weight="normal" text-anchor="end" fill="#555">1</text>
<line x1="152.75" y1="391.85" x2="154.25" y2="391.85" stroke="#b0b0b0" stroke-width="0.6"/>
<text x="149.5" y="393.50" font-size="4.7" font-weight="normal" text-anchor="end" fill="#555">2</text>
<line x1="152.75" y1="378.15" x2="154.25" y2="378.15" stroke="#b0b0b0" stroke-width="0.6"/>
<text x="149.5" y="379.80" font-size="4.7" font-weight="normal" text-anchor="end" fill="#555">3</text>
<line x1="152.75" y1="364.45" x2="154.25" y2="364.45" stroke="#b0b0b0" stroke-width="0.6"/>
<text x="149.5" y="366.10" font-size="4.7" font-weight="normal" text-anchor="end" fill="#555">4</text>
<line x1="152.75" y1="350.75" x2="154.25" y2="350.75" stroke="#b0b0b0" stroke-width="0.6"/>
<text x="149.5" y="352.40" font-size="4.7" font-weight="normal" text-anchor="end" fill="#555">5</text>
<line x1="154.25" y1="419.25" x2="154.25" y2="420.75" stroke="#b0b0b0" stroke-width="0.6"/>
<line x1="179.12" y1="419.25" x2="179.12" y2="420.75" stroke="#b0b0b0" stroke-width="0.6"/>
<line x1="204.00" y1="419.25" x2="204.00" y2="420.75" stroke="#b0b0b0" stroke-width="0.6"/>
<line x1="228.88" y1="419.25" x2="228.88" y2="420.75" stroke="#b0b0b0" stroke-width="0.6"/>
<line x1="253.75" y1="419.25" x2="253.75" y2="420.75" stroke="#b0b0b0" stroke-width="0.6"/>
<line x1="166.69" y1="405.55" x2="166.69" y2="400.07" stroke="#444" stroke-width="0.75"/>
<line x1="165.59" y1="400.07" x2="167.79" y2="400.07" stroke="#555" stroke-width="0.6"/>
<rect x="161.94" y="405.55" width="9.5" height="13.70" fill="#000"/>
<text x="166.69" y="427.30" font-size="4.95" text-anchor="middle" fill="#222" stroke="#222" stroke-width="0.15">Unstim</text>
<line x1="191.56" y1="404.18" x2="191.56" y2="390.07" stroke="#444" stroke-width="0.75"/>
<line x1="190.46" y1="390.07" x2="192.66" y2="390.07" stroke="#555" stroke-width="0.6"/>
<rect x="186.81" y="404.18" width="9.5" height="15.07" fill="#000"/>
<text x="191.56" y="427.30" font-size="4.95" text-anchor="middle" fill="#222" stroke="#222" stroke-width="0.15">D0 EVs</text>
<line x1="216.44" y1="405.55" x2="216.44" y2="398.29" stroke="#444" stroke-width="0.75"/>
<line x1="215.34" y1="398.29" x2="217.54" y2="398.29" stroke="#555" stroke-width="0.6"/>
<rect x="211.69" y="405.55" width="9.5" height="13.70" fill="#000"/>
<text x="216.44" y="427.30" font-size="4.95" text-anchor="middle" fill="#222" stroke="#222" stroke-width="0.15">D21 EVs</text>
<line x1="241.31" y1="405.55" x2="241.31" y2="401.30" stroke="#444" stroke-width="0.75"/>
<line x1="240.21" y1="401.30" x2="242.41" y2="401.30" stroke="#555" stroke-width="0.6"/>
<rect x="236.56" y="405.55" width="9.5" height="13.70" fill="#000"/>
<text x="241.31" y="427.30" font-size="4.95" text-anchor="middle" fill="#222" stroke="#222" stroke-width="0.15">D42 EVs</text>
<text transform="translate(139.55,397.60) rotate(-90)" font-size="5.4" textLength="21.2" lengthAdjust="spacingAndGlyphs" fill="#222" stroke="#222" stroke-width="0.25">pg / mL</text>
<text x="71.25" y="440.00" font-size="6.8" text-anchor="middle" fill="#111">IL-17</text>
<line x1="21.25" y1="446.75" x2="21.25" y2="517.5" stroke="#a8a8a8" stroke-width="0.8"/>
<line x1="21.25" y1="517.5" x2="120" y2="517.5" stroke="#a8a8a8" stroke-width="0.8"/>
<line x1="19.75" y1="517.50" x2="21.25" y2="517.50" stroke="#b0b0b0" stroke-width="0.6"/>
<text x="18" y="519.15" font-size="4.7" font-weight="normal" text-anchor="end" fill="#555">0</text>
<line x1="19.75" y1="505.71" x2="21.25" y2="505.71" stroke="#b0b0b0" stroke-width="0.6"/>
<text x="18" y="507.36" font-size="4.7" font-weight="normal" text-anchor="end" fill="#555">1</text>
<line x1="19.75" y1="493.92" x2="21.25" y2="493.92" stroke="#b0b0b0" stroke-width="0.6"/>
<text x="18" y="495.57" font-size="4.7" font-weight="normal" text-anchor="end" fill="#555">2</text>
<line x1="19.75" y1="482.12" x2="21.25" y2="482.12" stroke="#b0b0b0" stroke-width="0.6"/>
<text x="18" y="483.77" font-size="4.7" font-weight="normal" text-anchor="end" fill="#555">3</text>
<line x1="19.75" y1="470.33" x2="21.25" y2="470.33" stroke="#b0b0b0" stroke-width="0.6"/>
<text x="18" y="471.98" font-size="4.7" font-weight="normal" text-anchor="end" fill="#555">4</text>
<line x1="19.75" y1="458.54" x2="21.25" y2="458.54" stroke="#b0b0b0" stroke-width="0.6"/>
<text x="18" y="460.19" font-size="4.7" font-weight="normal" text-anchor="end" fill="#555">5</text>
<line x1="19.75" y1="446.75" x2="21.25" y2="446.75" stroke="#b0b0b0" stroke-width="0.6"/>
<text x="18" y="448.40" font-size="4.7" font-weight="normal" text-anchor="end" fill="#555">6</text>
<line x1="21.25" y1="517.5" x2="21.25" y2="519.0" stroke="#b0b0b0" stroke-width="0.6"/>
<line x1="45.94" y1="517.5" x2="45.94" y2="519.0" stroke="#b0b0b0" stroke-width="0.6"/>
<line x1="70.62" y1="517.5" x2="70.62" y2="519.0" stroke="#b0b0b0" stroke-width="0.6"/>
<line x1="95.31" y1="517.5" x2="95.31" y2="519.0" stroke="#b0b0b0" stroke-width="0.6"/>
<line x1="120.00" y1="517.5" x2="120.00" y2="519.0" stroke="#b0b0b0" stroke-width="0.6"/>
<line x1="33.59" y1="503.23" x2="33.59" y2="496.27" stroke="#444" stroke-width="0.75"/>
<line x1="32.49" y1="496.27" x2="34.69" y2="496.27" stroke="#555" stroke-width="0.6"/>
<rect x="28.84" y="503.23" width="9.5" height="14.27" fill="#000"/>
<text x="33.59" y="524.80" font-size="4.95" text-anchor="middle" fill="#222" stroke="#222" stroke-width="0.15">Unstim</text>
<line x1="58.28" y1="475.05" x2="58.28" y2="459.25" stroke="#444" stroke-width="0.75"/>
<line x1="57.18" y1="459.25" x2="59.38" y2="459.25" stroke="#555" stroke-width="0.6"/>
<rect x="53.53" y="475.05" width="9.5" height="42.45" fill="#000"/>
<text x="58.28" y="524.80" font-size="4.95" text-anchor="middle" fill="#222" stroke="#222" stroke-width="0.15">D0 EVs</text>
<line x1="82.97" y1="484.48" x2="82.97" y2="469.98" stroke="#444" stroke-width="0.75"/>
<line x1="81.87" y1="469.98" x2="84.07" y2="469.98" stroke="#555" stroke-width="0.6"/>
<rect x="78.22" y="484.48" width="9.5" height="33.02" fill="#000"/>
<text x="82.97" y="524.80" font-size="4.95" text-anchor="middle" fill="#222" stroke="#222" stroke-width="0.15">D21 EVs</text>
<line x1="107.66" y1="479.53" x2="107.66" y2="458.78" stroke="#444" stroke-width="0.75"/>
<line x1="106.56" y1="458.78" x2="108.76" y2="458.78" stroke="#555" stroke-width="0.6"/>
<rect x="102.91" y="479.53" width="9.5" height="37.97" fill="#000"/>
<text x="107.66" y="524.80" font-size="4.95" text-anchor="middle" fill="#222" stroke="#222" stroke-width="0.15">D42 EVs</text>
<text transform="translate(6.30,492.60) rotate(-90)" font-size="5.4" textLength="21.2" lengthAdjust="spacingAndGlyphs" fill="#222" stroke="#222" stroke-width="0.25">pg / mL</text>
<path d="M29.5,455 L29.5,453 L58.25,453 L58.25,455" fill="none" stroke="#8a8a8a" stroke-width="0.8" stroke-linejoin="round"/>
<circle cx="44.5" cy="448.25" r="0.95" fill="#111"/>
<text x="44.5" y="451.65" font-size="7.5" text-anchor="middle" fill="#111">*</text>
<text x="210" y="441.75" font-size="6.8" text-anchor="middle" fill="#111">IL-9</text>
<line x1="156.75" y1="448" x2="156.75" y2="516.25" stroke="#a8a8a8" stroke-width="0.8"/>
<line x1="156.75" y1="516.25" x2="253.75" y2="516.25" stroke="#a8a8a8" stroke-width="0.8"/>
<line x1="155.25" y1="516.25" x2="156.75" y2="516.25" stroke="#b0b0b0" stroke-width="0.6"/>
<text x="152" y="517.90" font-size="4.7" font-weight="normal" text-anchor="end" fill="#555">0</text>
<line x1="155.25" y1="507.72" x2="156.75" y2="507.72" stroke="#b0b0b0" stroke-width="0.6"/>
<text x="152" y="509.37" font-size="4.7" font-weight="normal" text-anchor="end" fill="#555">1</text>
<line x1="155.25" y1="499.19" x2="156.75" y2="499.19" stroke="#b0b0b0" stroke-width="0.6"/>
<text x="152" y="500.84" font-size="4.7" font-weight="normal" text-anchor="end" fill="#555">2</text>
<line x1="155.25" y1="490.66" x2="156.75" y2="490.66" stroke="#b0b0b0" stroke-width="0.6"/>
<text x="152" y="492.31" font-size="4.7" font-weight="normal" text-anchor="end" fill="#555">3</text>
<line x1="155.25" y1="482.12" x2="156.75" y2="482.12" stroke="#b0b0b0" stroke-width="0.6"/>
<text x="152" y="483.77" font-size="4.7" font-weight="normal" text-anchor="end" fill="#555">4</text>
<line x1="155.25" y1="473.59" x2="156.75" y2="473.59" stroke="#b0b0b0" stroke-width="0.6"/>
<text x="152" y="475.24" font-size="4.7" font-weight="normal" text-anchor="end" fill="#555">5</text>
<line x1="155.25" y1="465.06" x2="156.75" y2="465.06" stroke="#b0b0b0" stroke-width="0.6"/>
<text x="152" y="466.71" font-size="4.7" font-weight="normal" text-anchor="end" fill="#555">6</text>
<line x1="155.25" y1="456.53" x2="156.75" y2="456.53" stroke="#b0b0b0" stroke-width="0.6"/>
<text x="152" y="458.18" font-size="4.7" font-weight="normal" text-anchor="end" fill="#555">7</text>
<line x1="155.25" y1="448.00" x2="156.75" y2="448.00" stroke="#b0b0b0" stroke-width="0.6"/>
<text x="152" y="449.65" font-size="4.7" font-weight="normal" text-anchor="end" fill="#555">8</text>
<line x1="156.75" y1="516.25" x2="156.75" y2="517.75" stroke="#b0b0b0" stroke-width="0.6"/>
<line x1="181.00" y1="516.25" x2="181.00" y2="517.75" stroke="#b0b0b0" stroke-width="0.6"/>
<line x1="205.25" y1="516.25" x2="205.25" y2="517.75" stroke="#b0b0b0" stroke-width="0.6"/>
<line x1="229.50" y1="516.25" x2="229.50" y2="517.75" stroke="#b0b0b0" stroke-width="0.6"/>
<line x1="253.75" y1="516.25" x2="253.75" y2="517.75" stroke="#b0b0b0" stroke-width="0.6"/>
<line x1="168.88" y1="501.24" x2="168.88" y2="492.96" stroke="#444" stroke-width="0.75"/>
<line x1="167.78" y1="492.96" x2="169.97" y2="492.96" stroke="#555" stroke-width="0.6"/>
<rect x="164.12" y="501.24" width="9.5" height="15.01" fill="#000"/>
<text x="168.88" y="524.30" font-size="4.95" text-anchor="middle" fill="#222" stroke="#222" stroke-width="0.15">Unstim</text>
<line x1="193.12" y1="479.48" x2="193.12" y2="456.96" stroke="#444" stroke-width="0.75"/>
<line x1="192.03" y1="456.96" x2="194.22" y2="456.96" stroke="#555" stroke-width="0.6"/>
<rect x="188.38" y="479.48" width="9.5" height="36.77" fill="#000"/>
<text x="193.12" y="524.30" font-size="4.95" text-anchor="middle" fill="#222" stroke="#222" stroke-width="0.15">D0 EVs</text>
<line x1="217.38" y1="485.71" x2="217.38" y2="476.75" stroke="#444" stroke-width="0.75"/>
<line x1="216.28" y1="476.75" x2="218.47" y2="476.75" stroke="#555" stroke-width="0.6"/>
<rect x="212.62" y="485.71" width="9.5" height="30.54" fill="#000"/>
<text x="217.38" y="524.30" font-size="4.95" text-anchor="middle" fill="#222" stroke="#222" stroke-width="0.15">D21 EVs</text>
<line x1="241.62" y1="478.97" x2="241.62" y2="466.26" stroke="#444" stroke-width="0.75"/>
<line x1="240.53" y1="466.26" x2="242.72" y2="466.26" stroke="#555" stroke-width="0.6"/>
<rect x="236.88" y="478.97" width="9.5" height="37.28" fill="#000"/>
<text x="241.62" y="524.30" font-size="4.95" text-anchor="middle" fill="#222" stroke="#222" stroke-width="0.15">D42 EVs</text>
<text transform="translate(143.05,493.10) rotate(-90)" font-size="5.4" textLength="21.2" lengthAdjust="spacingAndGlyphs" fill="#222" stroke="#222" stroke-width="0.25">pg / mL</text>
<path d="M164.5,454.5 L164.5,452.5 L192.5,452.5 L192.5,454.5" fill="none" stroke="#8a8a8a" stroke-width="0.8" stroke-linejoin="round"/>
<circle cx="179.25" cy="448.25" r="0.95" fill="#111"/>
<text x="179.25" y="451.65" font-size="7.5" text-anchor="middle" fill="#111">*</text>
<text x="67.5" y="541.75" font-size="6.8" text-anchor="middle" fill="#111">IL-1<tspan font-weight="normal">β</tspan></text>
<line x1="23" y1="549.25" x2="23" y2="620.75" stroke="#a8a8a8" stroke-width="0.8"/>
<line x1="23" y1="620.75" x2="123.75" y2="620.75" stroke="#a8a8a8" stroke-width="0.8"/>
<line x1="21.5" y1="620.75" x2="23" y2="620.75" stroke="#b0b0b0" stroke-width="0.6"/>
<text x="19.25" y="622.40" font-size="4.7" font-weight="normal" text-anchor="end" fill="#555">0</text>
<line x1="21.5" y1="610.54" x2="23" y2="610.54" stroke="#b0b0b0" stroke-width="0.6"/>
<text x="19.25" y="612.19" font-size="4.7" font-weight="normal" text-anchor="end" fill="#555">100</text>
<line x1="21.5" y1="600.32" x2="23" y2="600.32" stroke="#b0b0b0" stroke-width="0.6"/>
<text x="19.25" y="601.97" font-size="4.7" font-weight="normal" text-anchor="end" fill="#555">200</text>
<line x1="21.5" y1="590.11" x2="23" y2="590.11" stroke="#b0b0b0" stroke-width="0.6"/>
<text x="19.25" y="591.76" font-size="4.7" font-weight="normal" text-anchor="end" fill="#555">300</text>
<line x1="21.5" y1="579.89" x2="23" y2="579.89" stroke="#b0b0b0" stroke-width="0.6"/>
<text x="19.25" y="581.54" font-size="4.7" font-weight="normal" text-anchor="end" fill="#555">400</text>
<line x1="21.5" y1="569.68" x2="23" y2="569.68" stroke="#b0b0b0" stroke-width="0.6"/>
<text x="19.25" y="571.33" font-size="4.7" font-weight="normal" text-anchor="end" fill="#555">500</text>
<line x1="21.5" y1="559.46" x2="23" y2="559.46" stroke="#b0b0b0" stroke-width="0.6"/>
<text x="19.25" y="561.11" font-size="4.7" font-weight="normal" text-anchor="end" fill="#555">600</text>
<line x1="21.5" y1="549.25" x2="23" y2="549.25" stroke="#b0b0b0" stroke-width="0.6"/>
<text x="19.25" y="550.90" font-size="4.7" font-weight="normal" text-anchor="end" fill="#555">700</text>
<line x1="23.00" y1="620.75" x2="23.00" y2="622.25" stroke="#b0b0b0" stroke-width="0.6"/>
<line x1="48.19" y1="620.75" x2="48.19" y2="622.25" stroke="#b0b0b0" stroke-width="0.6"/>
<line x1="73.38" y1="620.75" x2="73.38" y2="622.25" stroke="#b0b0b0" stroke-width="0.6"/>
<line x1="98.56" y1="620.75" x2="98.56" y2="622.25" stroke="#b0b0b0" stroke-width="0.6"/>
<line x1="123.75" y1="620.75" x2="123.75" y2="622.25" stroke="#b0b0b0" stroke-width="0.6"/>
<line x1="35.59" y1="620.03" x2="35.59" y2="619.52" stroke="#444" stroke-width="0.75"/>
<line x1="34.49" y1="619.52" x2="36.69" y2="619.52" stroke="#555" stroke-width="0.6"/>
<rect x="30.84" y="620.03" width="9.5" height="0.72" fill="#000"/>
<text x="35.59" y="628.80" font-size="4.95" text-anchor="middle" fill="#222" stroke="#222" stroke-width="0.15">Unstim</text>
<line x1="60.78" y1="593.78" x2="60.78" y2="556.20" stroke="#444" stroke-width="0.75"/>
<line x1="59.68" y1="556.20" x2="61.88" y2="556.20" stroke="#555" stroke-width="0.6"/>
<rect x="56.03" y="593.78" width="9.5" height="26.97" fill="#000"/>
<text x="60.78" y="628.80" font-size="4.95" text-anchor="middle" fill="#222" stroke="#222" stroke-width="0.15">D0 EVs</text>
<line x1="85.97" y1="616.26" x2="85.97" y2="613.29" stroke="#444" stroke-width="0.75"/>
<line x1="84.87" y1="613.29" x2="87.07" y2="613.29" stroke="#555" stroke-width="0.6"/>
<rect x="81.22" y="616.26" width="9.5" height="4.49" fill="#000"/>
<text x="85.97" y="628.80" font-size="4.95" text-anchor="middle" fill="#222" stroke="#222" stroke-width="0.15">D21 EVs</text>
<line x1="111.16" y1="606.96" x2="111.16" y2="594.19" stroke="#444" stroke-width="0.75"/>
<line x1="110.06" y1="594.19" x2="112.26" y2="594.19" stroke="#555" stroke-width="0.6"/>
<rect x="106.41" y="606.96" width="9.5" height="13.79" fill="#000"/>
<text x="111.16" y="628.80" font-size="4.95" text-anchor="middle" fill="#222" stroke="#222" stroke-width="0.15">D42 EVs</text>
<text transform="translate(7.55,596.35) rotate(-90)" font-size="5.4" textLength="21.2" lengthAdjust="spacingAndGlyphs" fill="#222" stroke="#222" stroke-width="0.25">pg / mL</text>
<path d="M32.5,552.75 L32.5,550.75 L60.75,550.75 L60.75,552.75" fill="none" stroke="#8a8a8a" stroke-width="0.8" stroke-linejoin="round"/>
<circle cx="46.75" cy="546.25" r="0.95" fill="#111"/>
<text x="46.75" y="549.65" font-size="7.5" text-anchor="middle" fill="#111">*</text>
<text x="201.75" y="545.75" font-size="6.8" text-anchor="middle" fill="#111">IL-18</text>
<line x1="156.75" y1="550.75" x2="156.75" y2="621.25" stroke="#a8a8a8" stroke-width="0.8"/>
<line x1="156.75" y1="621.25" x2="253.75" y2="621.25" stroke="#a8a8a8" stroke-width="0.8"/>
<line x1="155.25" y1="621.25" x2="156.75" y2="621.25" stroke="#b0b0b0" stroke-width="0.6"/>
<text x="152.5" y="622.90" font-size="4.7" font-weight="normal" text-anchor="end" fill="#555">0</text>
<line x1="155.25" y1="607.15" x2="156.75" y2="607.15" stroke="#b0b0b0" stroke-width="0.6"/>
<text x="152.5" y="608.80" font-size="4.7" font-weight="normal" text-anchor="end" fill="#555">20</text>
<line x1="155.25" y1="593.05" x2="156.75" y2="593.05" stroke="#b0b0b0" stroke-width="0.6"/>
<text x="152.5" y="594.70" font-size="4.7" font-weight="normal" text-anchor="end" fill="#555">40</text>
<line x1="155.25" y1="578.95" x2="156.75" y2="578.95" stroke="#b0b0b0" stroke-width="0.6"/>
<text x="152.5" y="580.60" font-size="4.7" font-weight="normal" text-anchor="end" fill="#555">60</text>
<line x1="155.25" y1="564.85" x2="156.75" y2="564.85" stroke="#b0b0b0" stroke-width="0.6"/>
<text x="152.5" y="566.50" font-size="4.7" font-weight="normal" text-anchor="end" fill="#555">80</text>
<line x1="155.25" y1="550.75" x2="156.75" y2="550.75" stroke="#b0b0b0" stroke-width="0.6"/>
<text x="152.5" y="552.40" font-size="4.7" font-weight="normal" text-anchor="end" fill="#555">100</text>
<line x1="156.75" y1="621.25" x2="156.75" y2="622.75" stroke="#b0b0b0" stroke-width="0.6"/>
<line x1="181.00" y1="621.25" x2="181.00" y2="622.75" stroke="#b0b0b0" stroke-width="0.6"/>
<line x1="205.25" y1="621.25" x2="205.25" y2="622.75" stroke="#b0b0b0" stroke-width="0.6"/>
<line x1="229.50" y1="621.25" x2="229.50" y2="622.75" stroke="#b0b0b0" stroke-width="0.6"/>
<line x1="253.75" y1="621.25" x2="253.75" y2="622.75" stroke="#b0b0b0" stroke-width="0.6"/>
<line x1="168.88" y1="592.49" x2="168.88" y2="588.12" stroke="#444" stroke-width="0.75"/>
<line x1="167.78" y1="588.12" x2="169.97" y2="588.12" stroke="#555" stroke-width="0.6"/>
<rect x="164.12" y="592.49" width="9.5" height="28.76" fill="#000"/>
<text x="168.88" y="628.80" font-size="4.95" text-anchor="middle" fill="#222" stroke="#222" stroke-width="0.15">Unstim</text>
<line x1="193.12" y1="590.02" x2="193.12" y2="585.01" stroke="#444" stroke-width="0.75"/>
<line x1="192.03" y1="585.01" x2="194.22" y2="585.01" stroke="#555" stroke-width="0.6"/>
<rect x="188.38" y="590.02" width="9.5" height="31.23" fill="#000"/>
<text x="193.12" y="628.80" font-size="4.95" text-anchor="middle" fill="#222" stroke="#222" stroke-width="0.15">D0 EVs</text>
<line x1="217.38" y1="592.49" x2="217.38" y2="590.72" stroke="#444" stroke-width="0.75"/>
<line x1="216.28" y1="590.72" x2="218.47" y2="590.72" stroke="#555" stroke-width="0.6"/>
<rect x="212.62" y="592.49" width="9.5" height="28.76" fill="#000"/>
<text x="217.38" y="628.80" font-size="4.95" text-anchor="middle" fill="#222" stroke="#222" stroke-width="0.15">D21 EVs</text>
<line x1="241.62" y1="590.51" x2="241.62" y2="585.72" stroke="#444" stroke-width="0.75"/>
<line x1="240.53" y1="585.72" x2="242.72" y2="585.72" stroke="#555" stroke-width="0.6"/>
<rect x="236.88" y="590.51" width="9.5" height="30.74" fill="#000"/>
<text x="241.62" y="628.80" font-size="4.95" text-anchor="middle" fill="#222" stroke="#222" stroke-width="0.15">D42 EVs</text>
<text transform="translate(140.80,596.60) rotate(-90)" font-size="5.4" textLength="21.2" lengthAdjust="spacingAndGlyphs" fill="#222" stroke="#222" stroke-width="0.25">pg / mL</text>
<text x="334.5" y="343.00" font-size="6.8" text-anchor="middle" fill="#111">IL-2</text>
<line x1="285.4" y1="349.3" x2="285.4" y2="419.3" stroke="#a8a8a8" stroke-width="0.8"/>
<line x1="285.4" y1="419.3" x2="387.6" y2="419.3" stroke="#a8a8a8" stroke-width="0.8"/>
<line x1="283.9" y1="419.30" x2="285.4" y2="419.30" stroke="#b0b0b0" stroke-width="0.6"/>
<text x="280.3" y="420.95" font-size="4.7" font-weight="normal" text-anchor="end" fill="#555">0</text>
<line x1="283.9" y1="407.63" x2="285.4" y2="407.63" stroke="#b0b0b0" stroke-width="0.6"/>
<text x="280.3" y="409.28" font-size="4.7" font-weight="normal" text-anchor="end" fill="#555">2</text>
<line x1="283.9" y1="395.97" x2="285.4" y2="395.97" stroke="#b0b0b0" stroke-width="0.6"/>
<text x="280.3" y="397.62" font-size="4.7" font-weight="normal" text-anchor="end" fill="#555">4</text>
<line x1="283.9" y1="384.30" x2="285.4" y2="384.30" stroke="#b0b0b0" stroke-width="0.6"/>
<text x="280.3" y="385.95" font-size="4.7" font-weight="normal" text-anchor="end" fill="#555">6</text>
<line x1="283.9" y1="372.63" x2="285.4" y2="372.63" stroke="#b0b0b0" stroke-width="0.6"/>
<text x="280.3" y="374.28" font-size="4.7" font-weight="normal" text-anchor="end" fill="#555">8</text>
<line x1="283.9" y1="360.97" x2="285.4" y2="360.97" stroke="#b0b0b0" stroke-width="0.6"/>
<text x="280.3" y="362.62" font-size="4.7" font-weight="normal" text-anchor="end" fill="#555">10</text>
<line x1="283.9" y1="349.30" x2="285.4" y2="349.30" stroke="#b0b0b0" stroke-width="0.6"/>
<text x="280.3" y="350.95" font-size="4.7" font-weight="normal" text-anchor="end" fill="#555">12</text>
<line x1="285.40" y1="419.3" x2="285.40" y2="420.8" stroke="#b0b0b0" stroke-width="0.6"/>
<line x1="310.95" y1="419.3" x2="310.95" y2="420.8" stroke="#b0b0b0" stroke-width="0.6"/>
<line x1="336.50" y1="419.3" x2="336.50" y2="420.8" stroke="#b0b0b0" stroke-width="0.6"/>
<line x1="362.05" y1="419.3" x2="362.05" y2="420.8" stroke="#b0b0b0" stroke-width="0.6"/>
<line x1="387.60" y1="419.3" x2="387.60" y2="420.8" stroke="#b0b0b0" stroke-width="0.6"/>
<line x1="298.17" y1="403.78" x2="298.17" y2="399.47" stroke="#444" stroke-width="0.75"/>
<line x1="297.07" y1="399.47" x2="299.27" y2="399.47" stroke="#555" stroke-width="0.6"/>
<rect x="293.27" y="403.78" width="9.8" height="15.52" fill="#000"/>
<text x="298.17" y="427.30" font-size="4.95" text-anchor="middle" fill="#222" stroke="#222" stroke-width="0.15">Unstim</text>
<line x1="323.73" y1="383.31" x2="323.73" y2="365.63" stroke="#444" stroke-width="0.75"/>
<line x1="322.62" y1="365.63" x2="324.83" y2="365.63" stroke="#555" stroke-width="0.6"/>
<rect x="318.83" y="383.31" width="9.8" height="35.99" fill="#000"/>
<text x="323.73" y="427.30" font-size="4.95" text-anchor="middle" fill="#222" stroke="#222" stroke-width="0.15">D0 EVs</text>
<line x1="349.27" y1="390.54" x2="349.27" y2="381.38" stroke="#444" stroke-width="0.75"/>
<line x1="348.17" y1="381.38" x2="350.38" y2="381.38" stroke="#555" stroke-width="0.6"/>
<rect x="344.38" y="390.54" width="9.8" height="28.76" fill="#000"/>
<text x="349.27" y="427.30" font-size="4.95" text-anchor="middle" fill="#222" stroke="#222" stroke-width="0.15">D21 EVs</text>
<line x1="374.83" y1="378.82" x2="374.83" y2="355.13" stroke="#444" stroke-width="0.75"/>
<line x1="373.73" y1="355.13" x2="375.93" y2="355.13" stroke="#555" stroke-width="0.6"/>
<rect x="369.93" y="378.82" width="9.8" height="40.48" fill="#000"/>
<text x="374.83" y="427.30" font-size="4.95" text-anchor="middle" fill="#222" stroke="#222" stroke-width="0.15">D42 EVs</text>
<text transform="translate(270.50,395.80) rotate(-90)" font-size="5.4" textLength="21.2" lengthAdjust="spacingAndGlyphs" fill="#222" stroke="#222" stroke-width="0.25">pg / mL</text>
<path d="M298,361.25 L298,359.25 L322.5,359.25 L322.5,361.25" fill="none" stroke="#8a8a8a" stroke-width="0.8" stroke-linejoin="round"/>
<circle cx="309.5" cy="355.5" r="0.95" fill="#111"/>
<text x="309.5" y="358.90" font-size="7.5" text-anchor="middle" fill="#111">*</text>
<text x="468.25" y="343.75" font-size="6.8" text-anchor="middle" fill="#111">IL-7</text>
<line x1="419.9" y1="349.5" x2="419.9" y2="419.25" stroke="#a8a8a8" stroke-width="0.8"/>
<line x1="419.9" y1="419.25" x2="518.7" y2="419.25" stroke="#a8a8a8" stroke-width="0.8"/>
<line x1="418.4" y1="419.25" x2="419.9" y2="419.25" stroke="#b0b0b0" stroke-width="0.6"/>
<text x="415" y="420.90" font-size="4.7" font-weight="normal" text-anchor="end" fill="#555">0</text>
<line x1="418.4" y1="407.62" x2="419.9" y2="407.62" stroke="#b0b0b0" stroke-width="0.6"/>
<text x="415" y="409.27" font-size="4.7" font-weight="normal" text-anchor="end" fill="#555">5</text>
<line x1="418.4" y1="396.00" x2="419.9" y2="396.00" stroke="#b0b0b0" stroke-width="0.6"/>
<text x="415" y="397.65" font-size="4.7" font-weight="normal" text-anchor="end" fill="#555">10</text>
<line x1="418.4" y1="384.38" x2="419.9" y2="384.38" stroke="#b0b0b0" stroke-width="0.6"/>
<text x="415" y="386.02" font-size="4.7" font-weight="normal" text-anchor="end" fill="#555">15</text>
<line x1="418.4" y1="372.75" x2="419.9" y2="372.75" stroke="#b0b0b0" stroke-width="0.6"/>
<text x="415" y="374.40" font-size="4.7" font-weight="normal" text-anchor="end" fill="#555">20</text>
<line x1="418.4" y1="361.12" x2="419.9" y2="361.12" stroke="#b0b0b0" stroke-width="0.6"/>
<text x="415" y="362.77" font-size="4.7" font-weight="normal" text-anchor="end" fill="#555">25</text>
<line x1="418.4" y1="349.50" x2="419.9" y2="349.50" stroke="#b0b0b0" stroke-width="0.6"/>
<text x="415" y="351.15" font-size="4.7" font-weight="normal" text-anchor="end" fill="#555">30</text>
<line x1="419.90" y1="419.25" x2="419.90" y2="420.75" stroke="#b0b0b0" stroke-width="0.6"/>
<line x1="444.60" y1="419.25" x2="444.60" y2="420.75" stroke="#b0b0b0" stroke-width="0.6"/>
<line x1="469.30" y1="419.25" x2="469.30" y2="420.75" stroke="#b0b0b0" stroke-width="0.6"/>
<line x1="494.00" y1="419.25" x2="494.00" y2="420.75" stroke="#b0b0b0" stroke-width="0.6"/>
<line x1="518.70" y1="419.25" x2="518.70" y2="420.75" stroke="#b0b0b0" stroke-width="0.6"/>
<line x1="432.25" y1="405.07" x2="432.25" y2="399.49" stroke="#444" stroke-width="0.75"/>
<line x1="431.15" y1="399.49" x2="433.35" y2="399.49" stroke="#555" stroke-width="0.6"/>
<rect x="427.50" y="405.07" width="9.5" height="14.18" fill="#000"/>
<text x="432.25" y="427.30" font-size="4.95" text-anchor="middle" fill="#222" stroke="#222" stroke-width="0.15">Unstim</text>
<line x1="456.95" y1="376.94" x2="456.95" y2="355.78" stroke="#444" stroke-width="0.75"/>
<line x1="455.85" y1="355.78" x2="458.05" y2="355.78" stroke="#555" stroke-width="0.6"/>
<rect x="452.20" y="376.94" width="9.5" height="42.31" fill="#000"/>
<text x="456.95" y="427.30" font-size="4.95" text-anchor="middle" fill="#222" stroke="#222" stroke-width="0.15">D0 EVs</text>
<line x1="481.65" y1="392.05" x2="481.65" y2="386.24" stroke="#444" stroke-width="0.75"/>
<line x1="480.55" y1="386.24" x2="482.75" y2="386.24" stroke="#555" stroke-width="0.6"/>
<rect x="476.90" y="392.05" width="9.5" height="27.20" fill="#000"/>
<text x="481.65" y="427.30" font-size="4.95" text-anchor="middle" fill="#222" stroke="#222" stroke-width="0.15">D21 EVs</text>
<line x1="506.35" y1="380.65" x2="506.35" y2="361.36" stroke="#444" stroke-width="0.75"/>
<line x1="505.25" y1="361.36" x2="507.45" y2="361.36" stroke="#555" stroke-width="0.6"/>
<rect x="501.60" y="380.65" width="9.5" height="38.60" fill="#000"/>
<text x="506.35" y="427.30" font-size="4.95" text-anchor="middle" fill="#222" stroke="#222" stroke-width="0.15">D42 EVs</text>
<text transform="translate(402.55,397.60) rotate(-90)" font-size="5.4" textLength="21.2" lengthAdjust="spacingAndGlyphs" fill="#222" stroke="#222" stroke-width="0.25">pg / mL</text>
<path d="M430.75,353.25 L430.75,351.25 L458,351.25 L458,353.25" fill="none" stroke="#8a8a8a" stroke-width="0.8" stroke-linejoin="round"/>
<circle cx="443.75" cy="347.5" r="0.95" fill="#111"/>
<text x="443.75" y="350.90" font-size="7.5" text-anchor="middle" fill="#111">*</text>
<text x="335" y="439.25" font-size="6.8" text-anchor="middle" fill="#111">IL-15</text>
<line x1="284.1" y1="446.25" x2="284.1" y2="522" stroke="#a8a8a8" stroke-width="0.8"/>
<line x1="284.1" y1="522" x2="391.1" y2="522" stroke="#a8a8a8" stroke-width="0.8"/>
<line x1="282.6" y1="522.00" x2="284.1" y2="522.00" stroke="#b0b0b0" stroke-width="0.6"/>
<text x="280" y="523.65" font-size="4.7" font-weight="normal" text-anchor="end" fill="#555">0</text>
<line x1="282.6" y1="511.18" x2="284.1" y2="511.18" stroke="#b0b0b0" stroke-width="0.6"/>
<text x="280" y="512.83" font-size="4.7" font-weight="normal" text-anchor="end" fill="#555">1</text>
<line x1="282.6" y1="500.36" x2="284.1" y2="500.36" stroke="#b0b0b0" stroke-width="0.6"/>
<text x="280" y="502.01" font-size="4.7" font-weight="normal" text-anchor="end" fill="#555">2</text>
<line x1="282.6" y1="489.54" x2="284.1" y2="489.54" stroke="#b0b0b0" stroke-width="0.6"/>
<text x="280" y="491.19" font-size="4.7" font-weight="normal" text-anchor="end" fill="#555">3</text>
<line x1="282.6" y1="478.71" x2="284.1" y2="478.71" stroke="#b0b0b0" stroke-width="0.6"/>
<text x="280" y="480.36" font-size="4.7" font-weight="normal" text-anchor="end" fill="#555">4</text>
<line x1="282.6" y1="467.89" x2="284.1" y2="467.89" stroke="#b0b0b0" stroke-width="0.6"/>
<text x="280" y="469.54" font-size="4.7" font-weight="normal" text-anchor="end" fill="#555">5</text>
<line x1="282.6" y1="457.07" x2="284.1" y2="457.07" stroke="#b0b0b0" stroke-width="0.6"/>
<text x="280" y="458.72" font-size="4.7" font-weight="normal" text-anchor="end" fill="#555">6</text>
<line x1="282.6" y1="446.25" x2="284.1" y2="446.25" stroke="#b0b0b0" stroke-width="0.6"/>
<text x="280" y="447.90" font-size="4.7" font-weight="normal" text-anchor="end" fill="#555">7</text>
<line x1="284.10" y1="522" x2="284.10" y2="523.5" stroke="#b0b0b0" stroke-width="0.6"/>
<line x1="310.85" y1="522" x2="310.85" y2="523.5" stroke="#b0b0b0" stroke-width="0.6"/>
<line x1="337.60" y1="522" x2="337.60" y2="523.5" stroke="#b0b0b0" stroke-width="0.6"/>
<line x1="364.35" y1="522" x2="364.35" y2="523.5" stroke="#b0b0b0" stroke-width="0.6"/>
<line x1="391.10" y1="522" x2="391.10" y2="523.5" stroke="#b0b0b0" stroke-width="0.6"/>
<line x1="297.48" y1="511.29" x2="297.48" y2="502.95" stroke="#444" stroke-width="0.75"/>
<line x1="296.38" y1="502.95" x2="298.58" y2="502.95" stroke="#555" stroke-width="0.6"/>
<rect x="292.33" y="511.29" width="10.3" height="10.71" fill="#000"/>
<text x="297.48" y="529.30" font-size="4.95" text-anchor="middle" fill="#222" stroke="#222" stroke-width="0.15">Unstim</text>
<line x1="324.23" y1="478.28" x2="324.23" y2="457.07" stroke="#444" stroke-width="0.75"/>
<line x1="323.12" y1="457.07" x2="325.33" y2="457.07" stroke="#555" stroke-width="0.6"/>
<rect x="319.08" y="478.28" width="10.3" height="43.72" fill="#000"/>
<text x="324.23" y="529.30" font-size="4.95" text-anchor="middle" fill="#222" stroke="#222" stroke-width="0.15">D0 EVs</text>
<line x1="350.98" y1="493.00" x2="350.98" y2="476.23" stroke="#444" stroke-width="0.75"/>
<line x1="349.88" y1="476.23" x2="352.08" y2="476.23" stroke="#555" stroke-width="0.6"/>
<rect x="345.83" y="493.00" width="10.3" height="29.00" fill="#000"/>
<text x="350.98" y="529.30" font-size="4.95" text-anchor="middle" fill="#222" stroke="#222" stroke-width="0.15">D21 EVs</text>
<line x1="377.73" y1="477.96" x2="377.73" y2="457.07" stroke="#444" stroke-width="0.75"/>
<line x1="376.62" y1="457.07" x2="378.83" y2="457.07" stroke="#555" stroke-width="0.6"/>
<rect x="372.58" y="477.96" width="10.3" height="44.04" fill="#000"/>
<text x="377.73" y="529.30" font-size="4.95" text-anchor="middle" fill="#222" stroke="#222" stroke-width="0.15">D42 EVs</text>
<text transform="translate(268.80,496.35) rotate(-90)" font-size="5.4" textLength="21.2" lengthAdjust="spacingAndGlyphs" fill="#222" stroke="#222" stroke-width="0.25">pg / mL</text>
<path d="M296.25,455 L296.25,453 L325,453 L325,455" fill="none" stroke="#8a8a8a" stroke-width="0.8" stroke-linejoin="round"/>
<circle cx="310.75" cy="449.25" r="0.95" fill="#111"/>
<text x="310.75" y="452.65" font-size="7.5" text-anchor="middle" fill="#111">*</text>
</svg>
</body></html>
